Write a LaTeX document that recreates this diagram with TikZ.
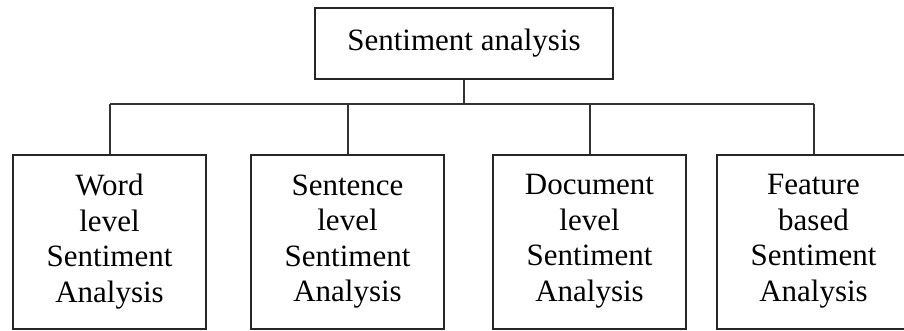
\documentclass[tikz,border=0pt]{standalone}
\usepackage{fontspec}
\setmainfont{Liberation Serif}
\usetikzlibrary{positioning}

\tikzset{
  box/.style={draw=black!85, line width=1pt, inner sep=0pt, align=center,
    font=\fontsize{15.5}{17.75}\selectfont},
  leaf/.style={box, minimum width=96.5pt, minimum height=87pt, text depth=4pt},
  link/.style={draw=black!80, line width=1pt},
}

\begin{document}
\begin{tikzpicture}[x=0.5pt, y=-0.5pt]
  % Page frame
  \useasboundingbox (0,0) rectangle (904,331);
  \clip (0,0) rectangle (904,331);

  % Root of the tree
  \node[box, minimum width=149pt, minimum height=35.5pt] (root) at (464,43.5) {Sentiment analysis};

  % The four levels
  \node[leaf] (word) at (109.5,242) {Word\\level\\Sentiment\\Analysis};
  \node[leaf] (sent) at (347.5,242) {Sentence\\level\\Sentiment\\Analysis};
  \node[leaf] (doc)  at (589.5,242) {Document\\level\\Sentiment\\Analysis};
  \node[leaf] (feat) at (813.5,242) {Feature\\based\\Sentiment\\Analysis};

  % Bus between root and levels
  \coordinate (bus) at (464,104);
  \draw[link] (root.south) -- (bus);
  \draw[link] (word.north |- bus) -- (feat.north |- bus);
  \foreach \n in {word,sent,doc,feat}
    \draw[link] (\n.north |- bus) -- (\n.north);
\end{tikzpicture}
\end{document}
